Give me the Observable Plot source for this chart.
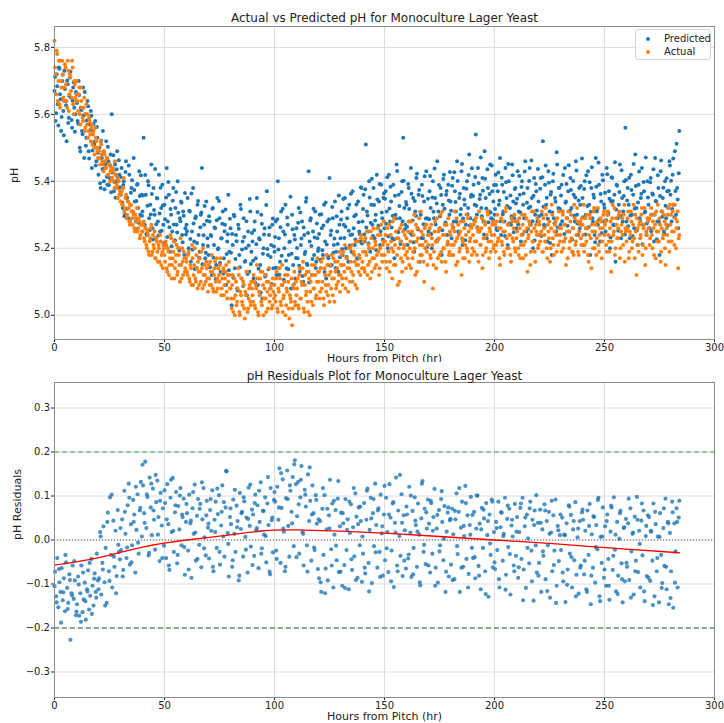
<!DOCTYPE html>
<html><head><meta charset="utf-8">
<script src="https://cdn.jsdelivr.net/npm/d3@7"></script>
<script src="https://cdn.jsdelivr.net/npm/@observablehq/plot@0.6"></script>
<style>
body{margin:0;background:#fff;font-family:"DejaVu Sans",sans-serif;}
#wrap{position:relative;width:724px;height:723px;overflow:hidden;}
#top,#bottom{position:absolute;left:0;}
#top{top:0}#bottom{top:362px}
.legend{position:absolute;left:635px;top:29px;width:74px;height:29px;border:1px solid #d5d5d5;border-radius:3px;background:rgba(255,255,255,0.85);font-size:10px;color:#222;}
.legend .it{position:absolute;left:0;height:12px;line-height:12px;}
.legend .dot{position:absolute;left:10px;top:4px;width:4px;height:4px;border-radius:50%;}
.legend .lab{position:absolute;left:28px;top:0;white-space:nowrap;}
</style></head>
<body><div id="wrap"><div id="top"></div><div id="bottom"></div>
<div class="legend">
<div class="it" style="top:3px"><span class="dot" style="background:#1f77b4"></span><span class="lab">Predicted</span></div>
<div class="it" style="top:16px"><span class="dot" style="background:#ff7f0e"></span><span class="lab">Actual</span></div>
</div></div>
<script>
const xTicks = [0, 50, 100, 150, 200, 250, 300];
const phTicks = [5.0, 5.2, 5.4, 5.6, 5.8];
const residTicks = [-0.3, -0.2, -0.1, 0, 0.1, 0.2, 0.3];
const topTitle = "Actual vs Predicted pH for Monoculture Lager Yeast";
const bottomTitle = "pH Residuals Plot for Monoculture Lager Yeast";
const xLabel = "Hours from Pitch (hr)";

// samples on the hour and half hour
const hours = [
0,0.5,1,1.5,2,2.5,3,3.5,4,4.5,5,5.5,6,6.5,7,7.5,8,8.5,9,9.5,
10,10.5,11,11.5,12,12.5,13,13.5,14,14.5,15,15.5,16,16.5,17,17.5,18,18.5,19,19.5,
20,20.5,21,21.5,22,22.5,23,23.5,24,24.5,25,25.5,26,26.5,27,27.5,28,28.5,29,29.5,
30,30.5,31,31.5,32,32.5,33,33.5,34,34.5,35,35.5,36,36.5,37,37.5,38,38.5,39,39.5,
40,40.5,41,41.5,42,42.5,43,43.5,44,44.5,45,45.5,46,46.5,47,47.5,48,48.5,49,49.5,
50,50.5,51,51.5,52,52.5,53,53.5,54,54.5,55,55.5,56,56.5,57,57.5,58,58.5,59,59.5,
60,60.5,61,61.5,62,62.5,63,63.5,64,64.5,65,65.5,66,66.5,67,67.5,68,68.5,69,69.5,
70,70.5,71,71.5,72,72.5,73,73.5,74,74.5,75,75.5,76,76.5,77,77.5,78,78.5,79,79.5,
80,80.5,81,81.5,82,82.5,83,83.5,84,84.5,85,85.5,86,86.5,87,87.5,88,88.5,89,89.5,
90,90.5,91,91.5,92,92.5,93,93.5,94,94.5,95,95.5,96,96.5,97,97.5,98,98.5,99,99.5,
100,100.5,101,101.5,102,102.5,103,103.5,104,104.5,105,105.5,106,106.5,107,107.5,108,108.5,109,109.5,
110,110.5,111,111.5,112,112.5,113,113.5,114,114.5,115,115.5,116,116.5,117,117.5,118,118.5,119,119.5,
120,120.5,121,121.5,122,122.5,123,123.5,124,124.5,125,125.5,126,126.5,127,127.5,128,128.5,129,129.5,
130,130.5,131,131.5,132,132.5,133,133.5,134,134.5,135,135.5,136,136.5,137,137.5,138,138.5,139,139.5,
140,140.5,141,141.5,142,142.5,143,143.5,144,144.5,145,145.5,146,146.5,147,147.5,148,148.5,149,149.5,
150,150.5,151,151.5,152,152.5,153,153.5,154,154.5,155,155.5,156,156.5,157,157.5,158,158.5,159,159.5,
160,160.5,161,161.5,162,162.5,163,163.5,164,164.5,165,165.5,166,166.5,167,167.5,168,168.5,169,169.5,
170,170.5,171,171.5,172,172.5,173,173.5,174,174.5,175,175.5,176,176.5,177,177.5,178,178.5,179,179.5,
180,180.5,181,181.5,182,182.5,183,183.5,184,184.5,185,185.5,186,186.5,187,187.5,188,188.5,189,189.5,
190,190.5,191,191.5,192,192.5,193,193.5,194,194.5,195,195.5,196,196.5,197,197.5,198,198.5,199,199.5,
200,200.5,201,201.5,202,202.5,203,203.5,204,204.5,205,205.5,206,206.5,207,207.5,208,208.5,209,209.5,
210,210.5,211,211.5,212,212.5,213,213.5,214,214.5,215,215.5,216,216.5,217,217.5,218,218.5,219,219.5,
220,220.5,221,221.5,222,222.5,223,223.5,224,224.5,225,225.5,226,226.5,227,227.5,228,228.5,229,229.5,
230,230.5,231,231.5,232,232.5,233,233.5,234,234.5,235,235.5,236,236.5,237,237.5,238,238.5,239,239.5,
240,240.5,241,241.5,242,242.5,243,243.5,244,244.5,245,245.5,246,246.5,247,247.5,248,248.5,249,249.5,
250,250.5,251,251.5,252,252.5,253,253.5,254,254.5,255,255.5,256,256.5,257,257.5,258,258.5,259,259.5,
260,260.5,261,261.5,262,262.5,263,263.5,264,264.5,265,265.5,266,266.5,267,267.5,268,268.5,269,269.5,
270,270.5,271,271.5,272,272.5,273,273.5,274,274.5,275,275.5,276,276.5,277,277.5,278,278.5,279,279.5,
280,280.5,281,281.5,282,282.5,283,283.5,284];

const predicted = [
5.67,5.58,5.72,5.63,5.74,5.66,5.55,5.70,5.61,5.73,5.64,5.52,5.69,5.59,5.71,5.65,5.56,5.68,5.62,5.60,
5.66,5.58,5.70,5.50,5.62,5.55,5.68,5.47,5.60,5.53,5.64,5.49,5.57,5.61,5.44,5.55,5.51,5.58,5.46,5.53,
5.42,5.50,5.38,5.47,5.55,5.40,5.44,5.52,5.39,5.46,5.41,5.48,5.60,5.43,5.37,5.45,5.40,5.49,5.38,5.42,
5.36,5.44,5.32,5.40,5.30,5.46,5.35,5.29,5.42,5.33,5.38,5.31,5.47,5.34,5.28,5.39,5.32,5.43,5.30,5.36,
5.31,5.53,5.27,5.36,5.24,5.40,5.29,5.33,5.45,5.26,5.38,5.30,5.23,5.35,5.28,5.42,5.25,5.32,5.39,5.27,
5.33,5.21,5.44,5.28,5.36,5.19,5.30,5.25,5.38,5.22,5.32,5.27,5.40,5.20,5.29,5.34,5.24,5.31,5.18,5.26,
5.27,5.35,5.20,5.31,5.16,5.25,5.38,5.22,5.29,5.14,5.33,5.24,5.19,5.30,5.44,5.21,5.27,5.17,5.34,5.23,
5.18,5.28,5.24,5.12,5.32,5.21,5.26,5.15,5.35,5.20,5.29,5.13,5.23,5.31,5.17,5.27,5.09,5.22,5.36,5.19,
5.26,5.03,5.21,5.30,5.14,5.24,5.08,5.27,5.18,5.33,5.11,5.22,5.29,5.16,5.20,5.06,5.25,5.13,5.31,5.19,
5.22,5.11,5.28,5.17,5.35,5.09,5.23,5.15,5.30,5.05,5.20,5.26,5.12,5.37,5.18,5.24,5.08,5.21,5.27,5.14,
5.19,5.28,5.12,5.40,5.23,5.16,5.31,5.09,5.25,5.20,5.33,5.14,5.27,5.18,5.22,5.08,5.30,5.15,5.24,5.11,
5.26,5.17,5.32,5.13,5.21,5.28,5.10,5.24,5.19,5.35,5.15,5.43,5.22,5.29,5.12,5.25,5.18,5.31,5.16,5.23,
5.20,5.30,5.14,5.26,5.18,5.33,5.22,5.11,5.28,5.17,5.41,5.24,5.15,5.29,5.21,5.34,5.19,5.25,5.13,5.27,
5.23,5.31,5.18,5.27,5.35,5.20,5.29,5.16,5.33,5.24,5.19,5.37,5.26,5.21,5.30,5.17,5.34,5.25,5.22,5.38,
5.28,5.36,5.22,5.51,5.31,5.25,5.40,5.19,5.33,5.27,5.38,5.23,5.30,5.42,5.26,5.34,5.21,5.39,5.29,5.35,
5.26,5.37,5.31,5.20,5.42,5.28,5.34,5.23,5.39,5.17,5.30,5.45,5.25,5.36,5.29,5.22,5.40,5.53,5.32,5.27,
5.33,5.21,5.38,5.28,5.44,5.24,5.35,5.19,5.31,5.41,5.26,5.36,5.16,5.30,5.39,5.23,5.34,5.27,5.43,5.29,
5.25,5.37,5.32,5.20,5.40,5.29,5.35,5.22,5.46,5.31,5.26,5.38,5.18,5.33,5.42,5.27,5.36,5.24,5.39,5.30,
5.34,5.23,5.41,5.28,5.37,5.31,5.46,5.25,5.35,5.30,5.43,5.21,5.38,5.33,5.27,5.40,5.32,5.48,5.29,5.36,
5.27,5.39,5.33,5.54,5.30,5.44,5.25,5.36,5.32,5.41,5.28,5.49,5.35,5.23,5.38,5.31,5.45,5.29,5.37,5.34,
5.30,5.42,5.26,5.37,5.33,5.47,5.24,5.39,5.31,5.28,5.44,5.35,5.21,5.40,5.32,5.27,5.45,5.34,5.29,5.38,
5.26,5.43,5.31,5.36,5.22,5.40,5.33,5.29,5.46,5.25,5.38,5.32,5.44,5.27,5.35,5.20,5.41,5.30,5.37,5.28,
5.34,5.24,5.41,5.30,5.52,5.27,5.39,5.33,5.22,5.43,5.31,5.36,5.18,5.40,5.29,5.35,5.25,5.45,5.32,5.38,
5.27,5.39,5.31,5.22,5.44,5.34,5.29,5.37,5.25,5.41,5.32,5.19,5.36,5.28,5.46,5.30,5.24,5.38,5.33,5.27,
5.35,5.21,5.40,5.30,5.26,5.43,5.33,5.18,5.38,5.29,5.36,5.24,5.47,5.31,5.27,5.39,5.22,5.34,5.42,5.28,
5.32,5.25,5.44,5.30,5.37,5.20,5.34,5.41,5.27,5.36,5.16,5.39,5.29,5.33,5.45,5.23,5.35,5.31,5.40,5.56,
5.28,5.38,5.33,5.23,5.42,5.30,5.36,5.26,5.48,5.32,5.21,5.39,5.29,5.35,5.44,5.27,5.37,5.31,5.24,5.40,
5.33,5.26,5.41,5.30,5.36,5.22,5.47,5.34,5.28,5.38,5.18,5.43,5.31,5.35,5.25,5.40,5.29,5.37,5.32,5.46,
5.36,5.28,5.42,5.33,5.49,5.30,5.38,5.26,5.55];

const actual = [
5.82,5.72,5.79,5.64,5.76,5.62,5.70,5.76,5.65,5.68,5.74,5.64,5.76,5.61,5.72,5.67,5.76,5.63,5.70,5.65,
5.70,5.64,5.66,5.60,5.68,5.62,5.58,5.65,5.56,5.63,5.60,5.55,5.58,5.52,5.57,5.54,5.50,5.56,5.52,5.49,
5.50,5.47,5.52,5.48,5.45,5.49,5.46,5.44,5.47,5.42,5.45,5.43,5.41,5.44,5.40,5.46,5.42,5.38,5.41,5.36,
5.34,5.37,5.33,5.41,5.32,5.36,5.30,5.34,5.28,5.33,5.31,5.27,5.30,5.25,5.29,5.32,5.26,5.28,5.24,5.27,
5.25,5.28,5.22,5.26,5.20,5.24,5.18,5.23,5.27,5.19,5.21,5.25,5.17,5.22,5.16,5.20,5.24,5.15,5.19,5.21,
5.18,5.22,5.14,5.20,5.12,5.17,5.23,5.15,5.19,5.11,5.16,5.21,5.13,5.18,5.10,5.15,5.20,5.12,5.17,5.14,
5.16,5.12,5.19,5.10,5.14,5.21,5.09,5.15,5.11,5.18,5.08,5.13,5.17,5.10,5.14,5.20,5.09,5.12,5.16,5.11,
5.15,5.09,5.13,5.18,5.08,5.12,5.16,5.07,5.11,5.14,5.10,5.17,5.08,5.13,5.06,5.11,5.15,5.05,5.10,5.12,
5.08,5.02,5.12,5.05,5.00,5.10,5.04,5.14,5.01,5.07,5.11,5.03,5.09,4.99,5.06,5.13,5.02,5.08,5.04,5.10,
5.06,5.12,5.03,5.09,5.15,5.01,5.07,5.11,5.04,5.13,5.00,5.08,5.05,5.10,5.02,5.14,5.06,5.09,5.03,5.07,
5.09,5.04,5.13,5.01,5.07,5.11,5.03,5.15,5.05,5.10,5.00,5.08,5.12,5.02,5.06,5.04,4.97,5.09,5.13,5.03,
5.06,5.11,5.02,5.14,5.05,5.09,5.16,5.01,5.12,5.07,5.04,5.13,5.00,5.10,5.15,5.03,5.08,5.12,5.06,5.17,
5.10,5.05,5.14,5.08,5.17,5.03,5.12,5.07,5.15,5.09,5.04,5.13,5.18,5.06,5.11,5.16,5.08,5.14,5.10,5.19,
5.12,5.18,5.09,5.15,5.21,5.11,5.17,5.07,5.14,5.20,5.13,5.10,5.19,5.16,5.22,5.08,5.15,5.18,5.12,5.24,
5.16,5.22,5.13,5.19,5.25,5.15,5.20,5.11,5.23,5.17,5.26,5.14,5.21,5.18,5.24,5.12,5.20,5.27,5.16,5.22,
5.18,5.24,5.14,5.21,5.27,5.16,5.22,5.11,5.19,5.29,5.15,5.23,5.09,5.20,5.26,5.17,5.13,5.25,5.21,5.18,
5.23,5.17,5.28,5.20,5.14,5.25,5.19,5.30,5.12,5.22,5.26,5.16,5.21,5.31,5.18,5.24,5.10,5.20,5.27,5.15,
5.21,5.26,5.17,5.23,5.08,5.19,5.28,5.14,5.22,5.25,5.18,5.30,5.16,5.24,5.20,5.27,5.13,5.21,5.29,5.19,
5.24,5.18,5.26,5.21,5.31,5.15,5.23,5.27,5.19,5.25,5.12,5.22,5.28,5.17,5.24,5.20,5.29,5.16,5.23,5.26,
5.20,5.27,5.22,5.29,5.18,5.25,5.31,5.21,5.26,5.14,5.23,5.28,5.19,5.24,5.30,5.17,5.25,5.22,5.27,5.20,
5.24,5.19,5.28,5.22,5.26,5.15,5.29,5.21,5.25,5.18,5.31,5.23,5.27,5.20,5.24,5.16,5.28,5.22,5.30,5.19,
5.23,5.28,5.18,5.26,5.21,5.30,5.17,5.25,5.22,5.29,5.13,5.24,5.27,5.19,5.31,5.22,5.26,5.16,5.25,5.29,
5.21,5.27,5.24,5.31,5.19,5.26,5.22,5.30,5.17,5.25,5.28,5.20,5.33,5.23,5.18,5.27,5.24,5.29,5.21,5.26,
5.24,5.19,5.30,5.22,5.27,5.15,5.25,5.31,5.20,5.28,5.23,5.26,5.18,5.29,5.22,5.32,5.19,5.25,5.28,5.21,
5.27,5.33,5.21,5.26,5.30,5.18,5.24,5.29,5.14,5.25,5.31,5.20,5.27,5.23,5.32,5.19,5.26,5.28,5.22,5.30,
5.24,5.28,5.19,5.31,5.22,5.26,5.13,5.29,5.24,5.32,5.20,5.27,5.23,5.30,5.17,5.25,5.29,5.21,5.33,5.26,
5.22,5.29,5.17,5.25,5.31,5.20,5.27,5.23,5.30,5.12,5.26,5.19,5.28,5.24,5.32,5.21,5.27,5.15,5.25,5.29,
5.26,5.21,5.30,5.24,5.28,5.18,5.27,5.31,5.22,5.25,5.29,5.16,5.26,5.23,5.30,5.20,5.27,5.24,5.32,5.19,
5.27,5.22,5.31,5.25,5.33,5.20,5.28,5.14,5.24];

// samples at quarter past and quarter to the hour (these also carry residuals)
const hoursB = [
0.25,0.75,1.25,1.75,2.25,2.75,3.25,3.75,4.25,4.75,5.25,5.75,6.25,6.75,7.25,7.75,8.25,8.75,9.25,9.75,
10.25,10.75,11.25,11.75,12.25,12.75,13.25,13.75,14.25,14.75,15.25,15.75,16.25,16.75,17.25,17.75,18.25,18.75,19.25,19.75,
20.25,20.75,21.25,21.75,22.25,22.75,23.25,23.75,24.25,24.75,25.25,25.75,26.25,26.75,27.25,27.75,28.25,28.75,29.25,29.75,
30.25,30.75,31.25,31.75,32.25,32.75,33.25,33.75,34.25,34.75,35.25,35.75,36.25,36.75,37.25,37.75,38.25,38.75,39.25,39.75,
40.25,40.75,41.25,41.75,42.25,42.75,43.25,43.75,44.25,44.75,45.25,45.75,46.25,46.75,47.25,47.75,48.25,48.75,49.25,49.75,
50.25,50.75,51.25,51.75,52.25,52.75,53.25,53.75,54.25,54.75,55.25,55.75,56.25,56.75,57.25,57.75,58.25,58.75,59.25,59.75,
60.25,60.75,61.25,61.75,62.25,62.75,63.25,63.75,64.25,64.75,65.25,65.75,66.25,66.75,67.25,67.75,68.25,68.75,69.25,69.75,
70.25,70.75,71.25,71.75,72.25,72.75,73.25,73.75,74.25,74.75,75.25,75.75,76.25,76.75,77.25,77.75,78.25,78.75,79.25,79.75,
80.25,80.75,81.25,81.75,82.25,82.75,83.25,83.75,84.25,84.75,85.25,85.75,86.25,86.75,87.25,87.75,88.25,88.75,89.25,89.75,
90.25,90.75,91.25,91.75,92.25,92.75,93.25,93.75,94.25,94.75,95.25,95.75,96.25,96.75,97.25,97.75,98.25,98.75,99.25,99.75,
100.25,100.75,101.25,101.75,102.25,102.75,103.25,103.75,104.25,104.75,105.25,105.75,106.25,106.75,107.25,107.75,108.25,108.75,109.25,109.75,
110.25,110.75,111.25,111.75,112.25,112.75,113.25,113.75,114.25,114.75,115.25,115.75,116.25,116.75,117.25,117.75,118.25,118.75,119.25,119.75,
120.25,120.75,121.25,121.75,122.25,122.75,123.25,123.75,124.25,124.75,125.25,125.75,126.25,126.75,127.25,127.75,128.25,128.75,129.25,129.75,
130.25,130.75,131.25,131.75,132.25,132.75,133.25,133.75,134.25,134.75,135.25,135.75,136.25,136.75,137.25,137.75,138.25,138.75,139.25,139.75,
140.25,140.75,141.25,141.75,142.25,142.75,143.25,143.75,144.25,144.75,145.25,145.75,146.25,146.75,147.25,147.75,148.25,148.75,149.25,149.75,
150.25,150.75,151.25,151.75,152.25,152.75,153.25,153.75,154.25,154.75,155.25,155.75,156.25,156.75,157.25,157.75,158.25,158.75,159.25,159.75,
160.25,160.75,161.25,161.75,162.25,162.75,163.25,163.75,164.25,164.75,165.25,165.75,166.25,166.75,167.25,167.75,168.25,168.75,169.25,169.75,
170.25,170.75,171.25,171.75,172.25,172.75,173.25,173.75,174.25,174.75,175.25,175.75,176.25,176.75,177.25,177.75,178.25,178.75,179.25,179.75,
180.25,180.75,181.25,181.75,182.25,182.75,183.25,183.75,184.25,184.75,185.25,185.75,186.25,186.75,187.25,187.75,188.25,188.75,189.25,189.75,
190.25,190.75,191.25,191.75,192.25,192.75,193.25,193.75,194.25,194.75,195.25,195.75,196.25,196.75,197.25,197.75,198.25,198.75,199.25,199.75,
200.25,200.75,201.25,201.75,202.25,202.75,203.25,203.75,204.25,204.75,205.25,205.75,206.25,206.75,207.25,207.75,208.25,208.75,209.25,209.75,
210.25,210.75,211.25,211.75,212.25,212.75,213.25,213.75,214.25,214.75,215.25,215.75,216.25,216.75,217.25,217.75,218.25,218.75,219.25,219.75,
220.25,220.75,221.25,221.75,222.25,222.75,223.25,223.75,224.25,224.75,225.25,225.75,226.25,226.75,227.25,227.75,228.25,228.75,229.25,229.75,
230.25,230.75,231.25,231.75,232.25,232.75,233.25,233.75,234.25,234.75,235.25,235.75,236.25,236.75,237.25,237.75,238.25,238.75,239.25,239.75,
240.25,240.75,241.25,241.75,242.25,242.75,243.25,243.75,244.25,244.75,245.25,245.75,246.25,246.75,247.25,247.75,248.25,248.75,249.25,249.75,
250.25,250.75,251.25,251.75,252.25,252.75,253.25,253.75,254.25,254.75,255.25,255.75,256.25,256.75,257.25,257.75,258.25,258.75,259.25,259.75,
260.25,260.75,261.25,261.75,262.25,262.75,263.25,263.75,264.25,264.75,265.25,265.75,266.25,266.75,267.25,267.75,268.25,268.75,269.25,269.75,
270.25,270.75,271.25,271.75,272.25,272.75,273.25,273.75,274.25,274.75,275.25,275.75,276.25,276.75,277.25,277.75,278.25,278.75,279.25,279.75,
280.25,280.75,281.25,281.75,282.25,282.75,283.25,283.75];

const predictedB = [
5.712,5.603,5.684,5.567,5.736,5.645,5.592,5.718,5.538,5.676,5.627,5.701,5.574,5.655,5.728,5.583,5.641,5.696,5.548,5.667,
5.634,5.572,5.658,5.489,5.613,5.541,5.597,5.667,5.506,5.582,5.624,5.468,5.553,5.596,5.492,5.571,5.518,5.447,5.562,5.485,
5.468,5.394,5.521,5.437,5.489,5.376,5.452,5.414,5.503,5.389,5.447,5.367,5.426,5.478,5.398,5.351,5.436,5.412,5.463,5.382,
5.412,5.337,5.389,5.296,5.428,5.352,5.318,5.447,5.281,5.366,5.403,5.309,5.374,5.258,5.341,5.392,5.276,5.356,5.418,5.297,
5.358,5.271,5.419,5.243,5.327,5.388,5.254,5.301,5.362,5.226,5.314,5.437,5.272,5.349,5.238,5.304,5.381,5.252,5.328,5.215,
5.287,5.352,5.234,5.398,5.263,5.317,5.206,5.342,5.271,5.224,5.368,5.247,5.306,5.193,5.281,5.336,5.218,5.297,5.365,5.241,
5.251,5.183,5.312,5.228,5.364,5.196,5.274,5.138,5.295,5.216,5.341,5.172,5.263,5.307,5.152,5.239,5.326,5.187,5.282,5.207,
5.296,5.143,5.237,5.318,5.172,5.262,5.108,5.284,5.197,5.341,5.156,5.229,5.273,5.124,5.251,5.316,5.183,5.242,5.134,5.288,
5.187,5.243,5.112,5.296,5.168,5.221,5.074,5.258,5.143,5.317,5.196,5.087,5.234,5.162,5.281,5.123,5.208,5.347,5.153,5.246,
5.163,5.254,5.097,5.212,5.308,5.139,5.226,5.068,5.273,5.184,5.241,5.116,5.329,5.198,5.137,5.262,5.174,5.093,5.289,5.205,
5.234,5.142,5.287,5.196,5.121,5.263,5.178,5.318,5.106,5.241,5.163,5.292,5.137,5.219,5.354,5.184,5.257,5.092,5.226,5.171,
5.201,5.276,5.148,5.307,5.229,5.117,5.262,5.183,5.339,5.154,5.246,5.098,5.283,5.207,5.168,5.318,5.232,5.141,5.274,5.192,
5.243,5.166,5.302,5.194,5.268,5.129,5.337,5.211,5.176,5.287,5.148,5.252,5.323,5.187,5.229,5.141,5.296,5.213,5.358,5.173,
5.286,5.198,5.347,5.231,5.264,5.174,5.319,5.252,5.208,5.363,5.241,5.187,5.296,5.226,5.331,5.169,5.278,5.243,5.382,5.214,
5.317,5.241,5.376,5.262,5.298,5.214,5.352,5.276,5.408,5.237,5.329,5.283,5.194,5.346,5.268,5.392,5.251,5.307,5.226,5.364,
5.348,5.273,5.412,5.236,5.319,5.384,5.262,5.297,5.226,5.357,5.289,5.431,5.248,5.326,5.213,5.368,5.281,5.402,5.257,5.338,
5.264,5.392,5.317,5.246,5.363,5.283,5.218,5.341,5.297,5.423,5.256,5.374,5.308,5.231,5.356,5.272,5.415,5.289,5.202,5.348,
5.287,5.416,5.243,5.352,5.309,5.438,5.271,5.334,5.226,5.389,5.296,5.359,5.254,5.407,5.318,5.277,5.371,5.213,5.343,5.428,
5.312,5.387,5.262,5.427,5.338,5.279,5.401,5.246,5.363,5.317,5.452,5.289,5.346,5.224,5.378,5.302,5.419,5.268,5.354,5.439,
5.356,5.284,5.413,5.327,5.263,5.394,5.347,5.471,5.296,5.372,5.241,5.408,5.319,5.436,5.278,5.362,5.307,5.447,5.286,5.389,
5.317,5.389,5.254,5.426,5.343,5.281,5.411,5.302,5.368,5.237,5.397,5.326,5.452,5.274,5.358,5.296,5.418,5.248,5.377,5.334,
5.348,5.272,5.416,5.307,5.383,5.241,5.364,5.429,5.289,5.336,5.258,5.401,5.324,5.462,5.281,5.357,5.223,5.392,5.313,5.437,
5.296,5.378,5.237,5.412,5.324,5.263,5.447,5.351,5.288,5.396,5.216,5.368,5.307,5.423,5.274,5.339,5.487,5.262,5.381,5.317,
5.358,5.281,5.419,5.243,5.336,5.392,5.267,5.448,5.312,5.374,5.226,5.401,5.297,5.352,5.432,5.274,5.343,5.258,5.386,5.468,
5.293,5.377,5.241,5.418,5.326,5.263,5.397,5.309,5.442,5.279,5.351,5.218,5.384,5.317,5.456,5.287,5.362,5.246,5.403,5.331,
5.366,5.284,5.421,5.307,5.348,5.232,5.412,5.341,5.269,5.457,5.316,5.387,5.252,5.368,5.298,5.433,5.279,5.356,5.241,5.404,
5.343,5.266,5.411,5.298,5.374,5.237,5.452,5.319,5.386,5.254,5.337,5.429,5.281,5.363,5.212,5.398,5.307,5.471,5.274,5.352,
5.288,5.397,5.251,5.364,5.436,5.302,5.341,5.227,5.418,5.279,5.356,5.462,5.294,5.381,5.243,5.327,5.409,5.268,5.372,5.447,
5.402,5.317,5.468,5.293,5.371,5.512,5.346,5.424];

const actualB = [
5.74,5.66,5.78,5.70,5.63,5.76,5.68,5.72,5.64,5.75,5.69,5.62,5.73,5.66,5.71,5.65,5.74,5.60,5.69,5.64,
5.66,5.61,5.68,5.57,5.64,5.59,5.62,5.55,5.60,5.57,5.53,5.59,5.54,5.56,5.51,5.55,5.48,5.53,5.50,5.47,
5.49,5.45,5.51,5.46,5.43,5.48,5.44,5.47,5.42,5.45,5.40,5.44,5.41,5.43,5.38,5.42,5.39,5.35,5.40,5.37,
5.36,5.33,5.38,5.31,5.35,5.29,5.34,5.32,5.27,5.33,5.29,5.31,5.26,5.30,5.28,5.25,5.29,5.23,5.27,5.25,
5.27,5.23,5.26,5.21,5.25,5.19,5.22,5.26,5.18,5.24,5.20,5.17,5.23,5.19,5.21,5.16,5.22,5.18,5.14,5.20,
5.16,5.21,5.13,5.19,5.15,5.24,5.11,5.17,5.22,5.14,5.18,5.12,5.20,5.15,5.23,5.11,5.16,5.19,5.13,5.17,
5.13,5.18,5.11,5.15,5.09,5.17,5.12,5.20,5.10,5.14,5.16,5.09,5.13,5.19,5.08,5.12,5.15,5.10,5.14,5.07,
5.11,5.16,5.09,5.13,5.07,5.14,5.10,5.17,5.08,5.12,5.15,5.06,5.11,5.14,5.09,5.13,5.07,5.12,5.16,5.08,
5.05,5.09,5.01,5.11,5.06,5.03,5.08,5.12,5.00,5.06,5.04,5.10,5.02,5.07,5.13,5.01,5.05,5.09,5.03,5.08,
5.04,5.10,5.02,5.08,5.11,5.00,5.06,5.13,5.03,5.09,5.05,5.12,5.01,5.07,5.10,5.04,5.08,5.02,5.11,5.05,
5.06,5.11,5.02,5.08,5.14,5.04,5.09,5.01,5.06,5.12,5.03,5.07,5.10,4.99,5.05,5.11,5.02,5.08,5.04,5.10,
5.08,5.03,5.12,5.05,5.10,5.14,5.02,5.09,5.06,5.13,5.01,5.11,5.07,5.04,5.12,5.08,5.15,5.05,5.10,5.13,
5.13,5.07,5.16,5.10,5.05,5.14,5.09,5.18,5.06,5.12,5.15,5.08,5.11,5.17,5.04,5.13,5.09,5.16,5.12,5.07,
5.15,5.11,5.19,5.13,5.08,5.17,5.14,5.20,5.10,5.16,5.21,5.12,5.18,5.09,5.15,5.22,5.13,5.17,5.23,5.14,
5.19,5.14,5.23,5.18,5.12,5.21,5.16,5.25,5.13,5.20,5.17,5.22,5.15,5.26,5.19,5.14,5.24,5.18,5.21,5.28,
5.22,5.16,5.26,5.19,5.13,5.24,5.20,5.28,5.15,5.21,5.25,5.18,5.23,5.10,5.22,5.27,5.16,5.20,5.24,5.14,
5.19,5.25,5.15,5.22,5.28,5.17,5.24,5.20,5.27,5.13,5.23,5.29,5.18,5.25,5.21,5.16,5.26,5.22,5.19,5.24,
5.24,5.18,5.27,5.21,5.15,5.25,5.22,5.29,5.17,5.23,5.26,5.19,5.31,5.20,5.24,5.16,5.27,5.22,5.18,5.25,
5.21,5.27,5.18,5.25,5.22,5.29,5.16,5.24,5.20,5.28,5.23,5.17,5.26,5.21,5.30,5.19,5.25,5.22,5.27,5.18,
5.24,5.19,5.28,5.22,5.26,5.16,5.25,5.21,5.29,5.18,5.23,5.27,5.20,5.31,5.22,5.26,5.19,5.24,5.28,5.21,
5.27,5.21,5.30,5.23,5.17,5.26,5.22,5.28,5.19,5.25,5.32,5.20,5.27,5.24,5.18,5.29,5.23,5.26,5.20,5.28,
5.25,5.20,5.29,5.17,5.24,5.27,5.21,5.30,5.18,5.26,5.23,5.28,5.15,5.25,5.22,5.31,5.19,5.27,5.24,5.20,
5.28,5.22,5.25,5.19,5.29,5.24,5.32,5.20,5.27,5.23,5.16,5.26,5.30,5.21,5.25,5.28,5.19,5.24,5.31,5.22,
5.26,5.31,5.20,5.27,5.23,5.29,5.17,5.25,5.22,5.30,5.19,5.26,5.33,5.21,5.24,5.28,5.18,5.27,5.23,5.29,
5.24,5.19,5.29,5.22,5.26,5.16,5.30,5.23,5.27,5.20,5.32,5.25,5.18,5.28,5.21,5.24,5.29,5.17,5.26,5.31,
5.27,5.21,5.30,5.24,5.19,5.28,5.22,5.33,5.25,5.18,5.29,5.23,5.26,5.31,5.20,5.27,5.24,5.30,5.16,5.25,
5.26,5.31,5.19,5.24,5.28,5.22,5.33,5.17,5.25,5.29,5.21,5.27,5.23,5.30,5.18,5.26,5.32,5.20,5.24,5.28,
5.29,5.23,5.32,5.20,5.26,5.30,5.17,5.25,5.33,5.22,5.27,5.19,5.31,5.24,5.28,5.15,5.26,5.30,5.22,5.33,
5.30,5.25,5.33,5.21,5.29,5.26,5.31,5.23];

const residuals = [
-0.072,-0.128,-0.041,-0.153,-0.096,-0.118,-0.064,-0.137,-0.087,-0.162,-0.051,-0.109,-0.143,-0.078,-0.227,-0.121,-0.058,-0.134,-0.092,-0.171,
-0.146,-0.083,-0.172,-0.121,-0.058,-0.164,-0.135,-0.097,-0.181,-0.112,-0.069,-0.158,-0.127,-0.043,-0.104,-0.149,-0.076,-0.118,-0.031,-0.092,
-0.087,0.018,-0.124,-0.052,0.031,-0.096,-0.018,-0.143,0.062,-0.071,0.097,-0.034,-0.108,0.044,-0.061,0.021,-0.082,0.068,-0.027,-0.044,
-0.023,0.047,-0.068,0.112,0.014,-0.041,0.079,0.128,-0.056,0.036,-0.012,0.091,0.058,-0.074,0.023,0.104,-0.031,0.067,0.132,0.008,
0.124,0.061,0.178,0.027,0.098,-0.035,0.142,0.074,0.011,0.117,0.046,-0.022,0.086,0.135,0.052,-0.048,0.107,0.033,0.072,-0.013,
0.084,-0.041,0.127,0.036,-0.068,0.096,0.018,0.141,-0.027,0.063,0.109,-0.053,0.077,0.024,0.118,-0.012,0.052,0.094,-0.079,0.041,
0.061,-0.024,0.103,0.038,-0.086,0.072,0.014,0.126,-0.047,0.055,0.093,-0.011,0.082,-0.062,0.047,0.118,0.006,-0.035,0.089,0.028,
-0.042,0.068,0.021,0.113,-0.071,0.046,0.087,-0.018,0.059,0.102,-0.056,0.033,0.124,0.008,-0.038,0.074,0.156,0.016,-0.083,0.052,
0.036,-0.061,0.092,0.014,-0.027,0.078,0.043,-0.092,0.107,0.025,0.064,-0.038,0.088,0.007,0.051,-0.074,0.119,0.032,-0.015,0.069,
0.058,-0.036,0.103,0.022,0.079,-0.064,0.041,0.131,-0.019,0.066,0.012,0.097,-0.051,0.083,0.034,-0.072,0.118,0.045,-0.028,0.091,
0.087,-0.024,0.121,0.046,0.163,-0.052,0.073,0.138,0.019,-0.071,0.095,0.158,0.032,-0.038,0.112,0.064,0.143,-0.014,0.181,0.127,
0.054,0.132,-0.031,0.097,0.168,0.018,-0.058,0.114,0.076,-0.012,0.149,0.043,0.089,-0.047,0.124,0.061,-0.023,0.102,0.037,-0.066,
-0.087,0.043,-0.118,0.071,-0.034,0.102,-0.065,0.024,-0.092,0.056,0.137,-0.021,0.083,-0.108,0.012,0.068,-0.046,0.094,-0.073,0.031,
0.062,-0.104,0.038,-0.057,0.093,-0.023,0.047,-0.112,0.016,0.081,-0.068,0.029,-0.037,0.106,0.053,-0.086,0.074,-0.012,0.043,-0.095,
-0.031,0.084,-0.076,0.046,0.117,-0.052,0.023,0.096,-0.098,0.061,-0.014,0.128,0.034,-0.063,0.072,-0.027,0.103,0.015,-0.081,0.058,
-0.046,0.096,0.018,-0.073,0.127,0.051,-0.024,0.083,-0.107,0.039,0.142,-0.058,0.067,0.009,-0.036,0.104,-0.082,0.056,0.022,-0.065,
0.058,-0.042,0.121,0.017,-0.084,0.066,-0.018,0.097,0.034,-0.061,0.083,0.012,-0.103,0.049,0.134,-0.027,0.071,-0.055,0.026,0.092,
0.037,-0.074,0.084,-0.031,0.052,0.116,-0.063,0.026,-0.097,0.068,-0.012,0.093,0.041,-0.046,0.077,-0.118,0.019,0.062,-0.083,0.045,
-0.056,0.071,0.013,-0.089,0.047,0.106,-0.032,0.064,-0.118,0.028,0.087,-0.061,0.009,0.123,-0.043,0.056,-0.077,0.034,0.098,-0.018,
-0.041,0.064,-0.087,0.026,0.101,-0.059,0.037,-0.112,0.073,-0.018,0.049,-0.071,0.084,0.011,-0.129,0.058,-0.034,0.092,-0.062,0.018,
-0.066,0.041,-0.023,0.087,-0.108,0.029,0.062,-0.047,0.014,0.096,-0.079,0.048,-0.016,0.071,-0.124,0.033,0.008,-0.058,0.082,-0.036,
0.052,-0.086,0.018,0.073,-0.043,0.096,-0.067,0.031,-0.109,0.058,0.004,-0.053,0.087,-0.024,0.046,-0.138,0.067,-0.012,-0.074,0.039,
-0.052,0.069,-0.118,0.024,-0.036,0.081,-0.089,0.043,-0.012,0.064,-0.131,0.017,-0.071,0.056,-0.024,0.092,-0.104,0.032,-0.048,0.011,
-0.023,0.051,-0.094,0.012,-0.141,0.038,-0.067,0.079,-0.031,0.057,-0.108,0.024,-0.046,0.086,-0.079,0.006,-0.122,0.043,-0.058,0.063,
0.046,-0.078,0.021,-0.112,0.067,-0.034,0.082,-0.146,0.013,-0.063,0.052,-0.097,0.034,-0.021,0.096,-0.128,0.007,-0.052,0.074,-0.086,
0.031,-0.104,0.058,-0.043,-0.136,0.019,0.074,-0.068,0.097,-0.022,-0.117,0.041,-0.081,0.003,0.066,-0.053,-0.142,0.027,-0.094,0.048,
-0.061,0.038,-0.091,0.072,-0.026,0.014,-0.124,0.053,-0.047,0.098,-0.073,0.021,-0.108,0.044,-0.035,0.067,-0.139,0.009,-0.082,0.056,
0.052,-0.093,0.019,-0.047,0.083,-0.128,0.036,-0.071,0.008,-0.142,0.061,-0.034,-0.098,0.027,-0.059,0.094,-0.112,0.041,-0.146,0.016,
-0.071,0.087,-0.154,0.038,-0.026,0.072,-0.108,0.051];

// extra residual samples on the whole hour
const hoursC = [
0,1,2,3,4,5,6,7,8,9,10,11,12,13,14,15,16,17,18,19,20,21,22,23,24,25,26,27,28,29,
30,31,32,33,34,35,36,37,38,39,40,41,42,43,44,45,46,47,48,49,50,51,52,53,54,55,56,57,58,59,
60,61,62,63,64,65,66,67,68,69,70,71,72,73,74,75,76,77,78,79,80,81,82,83,84,85,86,87,88,89,
90,91,92,93,94,95,96,97,98,99,100,101,102,103,104,105,106,107,108,109,110,111,112,113,114,115,116,117,118,119,
120,121,122,123,124,125,126,127,128,129,130,131,132,133,134,135,136,137,138,139,140,141,142,143,144,145,146,147,148,149,
150,151,152,153,154,155,156,157,158,159,160,161,162,163,164,165,166,167,168,169,170,171,172,173,174,175,176,177,178,179,
180,181,182,183,184,185,186,187,188,189,190,191,192,193,194,195,196,197,198,199,200,201,202,203,204,205,206,207,208,209,
210,211,212,213,214,215,216,217,218,219,220,221,222,223,224,225,226,227,228,229,230,231,232,233,234,235,236,237,238,239,
240,241,242,243,244,245,246,247,248,249,250,251,252,253,254,255,256,257,258,259,260,261,262,263,264,265,266,267,268,269,
270,271,272,273,274,275,276,277,278,279,280,281,282,283,284];

const residualsC = [
-0.105,-0.142,-0.066,-0.188,-0.119,-0.034,-0.157,-0.091,-0.126,-0.048,
-0.163,-0.101,-0.186,-0.074,-0.139,-0.117,-0.052,-0.168,-0.088,-0.131,
-0.112,0.008,-0.067,-0.149,0.041,-0.093,0.103,-0.038,-0.121,-0.011,
0.027,-0.083,0.064,-0.017,0.096,-0.051,0.041,0.121,-0.006,0.073,
0.171,0.039,0.104,-0.029,0.128,0.067,0.148,0.012,0.089,-0.041,
0.113,0.047,-0.058,0.137,0.021,0.079,-0.034,0.101,0.058,-0.016,
0.082,-0.067,0.044,0.109,0.017,-0.043,0.071,0.131,-0.019,0.056,
0.037,0.093,-0.061,0.018,0.117,-0.027,0.064,0.086,0.157,-0.009,
0.072,-0.046,0.114,0.029,-0.081,0.061,0.097,-0.022,0.048,0.126,
-0.057,0.084,0.027,0.112,-0.031,0.066,0.009,0.143,-0.078,0.051,
0.109,-0.043,0.074,0.152,0.026,-0.061,0.093,0.124,0.038,0.172,
-0.039,0.081,0.137,0.014,0.103,-0.072,0.165,0.058,-0.017,0.091,
0.047,-0.096,0.118,-0.121,0.071,0.026,-0.058,0.089,-0.013,0.134,
-0.072,0.061,-0.109,0.023,0.087,-0.044,0.118,-0.091,0.036,0.076,
0.008,-0.063,0.112,-0.117,0.049,0.093,-0.028,0.067,-0.084,0.031,
0.123,-0.019,0.058,-0.094,0.086,0.017,-0.071,0.148,0.039,-0.047,
0.076,-0.033,0.101,-0.078,0.044,0.019,-0.096,0.128,-0.011,0.063,
-0.058,0.089,0.021,-0.104,0.057,-0.026,0.111,0.003,-0.072,0.074,
0.048,-0.091,0.066,-0.014,0.118,-0.063,0.032,0.084,-0.108,0.012,
0.057,-0.039,0.101,-0.081,0.024,0.069,-0.123,0.043,-0.008,0.087,
-0.051,0.027,-0.089,0.063,0.009,-0.113,0.078,-0.032,0.046,-0.071,
0.019,-0.062,0.083,-0.137,0.051,-0.018,0.072,-0.094,0.034,0.102,
-0.081,0.039,-0.026,0.067,-0.116,0.014,0.089,-0.057,-0.143,0.022,
0.058,-0.074,0.011,-0.102,0.076,-0.039,0.043,-0.128,0.026,-0.063,
0.069,-0.047,-0.118,0.032,-0.081,0.054,-0.016,0.091,-0.139,0.008,
-0.067,0.043,-0.104,0.078,-0.036,0.012,-0.123,0.061,-0.089,0.029,
-0.052,0.094,-0.131,0.017,-0.071,0.046,-0.009,0.083,-0.117,0.032,
-0.086,0.021,-0.148,0.064,-0.041,0.007,-0.109,0.072,-0.061,0.038,
-0.132,0.063,-0.097,0.041,0.089];

const trendHours = [0, 20, 40, 60, 77, 95, 110, 130, 152, 175, 200, 228, 255, 284];
const trendValues = [-0.057, -0.040, -0.016, 0.000, 0.010, 0.021, 0.023, 0.020, 0.015, 0.008, 0.000, -0.009, -0.019, -0.029];
const refLines = [0.2, -0.2];

const phRows = hours.map((h, i) => ({h, p: predicted[i], a: actual[i]}))
  .concat(hoursB.map((h, i) => ({h, p: predictedB[i], a: actualB[i]})))
  .sort((u, v) => u.h - v.h);
const residRows = hoursB.map((h, i) => ({h, r: residuals[i]}))
  .concat(hoursC.map((h, i) => ({h, r: residualsC[i]})))
  .sort((u, v) => u.h - v.h);
const trend = trendHours.map((h, i) => ({h, v: trendValues[i]}));

const font = "DejaVu Sans";
const baseStyle = {fontFamily: font, fontSize: "10px", color: "#222", background: "white", overflow: "visible"};
const gridColor = "#dcdcdc";
const txt = {text: d => d, lineAnchor: "middle", fill: "#222"};

const topChart = Plot.plot({
  width: 724, height: 362,
  marginLeft: 54, marginRight: 10, marginTop: 26, marginBottom: 23,
  style: baseStyle,
  x: {domain: [0, 300], ticks: xTicks, tickFormat: d => String(d), label: null, tickSize: 3, tickPadding: 1.5},
  y: {domain: [4.9275, 5.8625], ticks: phTicks, tickFormat: d => d.toFixed(1), label: null, tickSize: 3, tickPadding: 1.5},
  marks: [
    Plot.ruleX(xTicks, {stroke: gridColor, strokeWidth: 1}),
    Plot.ruleY(phTicks, {stroke: gridColor, strokeWidth: 1}),
    Plot.dot(phRows, {x: "h", y: "p", r: 2, fill: "#1f77b4"}),
    Plot.dot(phRows, {x: "h", y: "a", r: 2, fill: "#ff7f0e"}),
    Plot.frame({stroke: "#8c8c8c"}),
    Plot.text([topTitle], {...txt, frameAnchor: "top", dy: -8, fontSize: 12}),
    Plot.text([xLabel], {...txt, frameAnchor: "bottom", dy: 19, fontSize: 11}),
    Plot.text(["pH"], {...txt, frameAnchor: "left", dx: -40, rotate: -90, fontSize: 11})
  ]
});
document.getElementById("top").appendChild(topChart);

const bottomChart = Plot.plot({
  width: 724, height: 361,
  marginLeft: 54, marginRight: 10, marginTop: 20, marginBottom: 26,
  style: baseStyle,
  x: {domain: [0, 300], ticks: xTicks, tickFormat: d => String(d), label: null, tickSize: 3, tickPadding: 1.5},
  y: {domain: [-0.358, 0.358], ticks: residTicks, tickFormat: d => d.toFixed(1).replace("-", "\u2212"), label: null, tickSize: 3, tickPadding: 1.5},
  marks: [
    Plot.ruleX(xTicks, {stroke: gridColor, strokeWidth: 1}),
    Plot.ruleY(residTicks, {stroke: gridColor, strokeWidth: 1}),
    Plot.dot(residRows, {x: "h", y: "r", r: 2.1, fill: "#1f77b4", fillOpacity: 0.8}),
    Plot.ruleY([refLines[0]], {stroke: "#74be74", strokeWidth: 1.4, strokeDasharray: "5,3"}),
    Plot.ruleY([refLines[1]], {stroke: "#1f6e1f", strokeWidth: 1.2, strokeDasharray: "5,3"}),
    Plot.ruleY([0], {stroke: "#333", strokeWidth: 0.8, strokeDasharray: "1,2"}),
    Plot.line(trend, {x: "h", y: "v", stroke: "red", strokeWidth: 1.3, curve: "natural"}),
    Plot.frame({stroke: "#8c8c8c"}),
    Plot.text([bottomTitle], {...txt, frameAnchor: "top", dy: -6, fontSize: 12}),
    Plot.text([xLabel], {...txt, frameAnchor: "bottom", dy: 19, fontSize: 11}),
    Plot.text(["pH Residuals"], {...txt, frameAnchor: "left", dx: -37, rotate: -90, fontSize: 11})
  ]
});
document.getElementById("bottom").appendChild(bottomChart);
</script>
</body></html>
